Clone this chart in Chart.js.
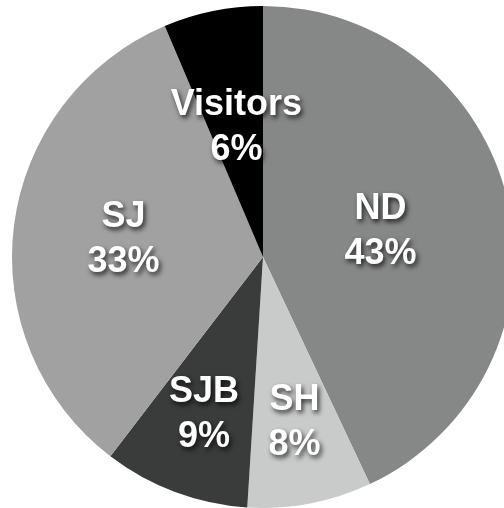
<!DOCTYPE html>
<html>
<head>
<meta charset="utf-8">
<script src="https://cdn.jsdelivr.net/npm/chart.js@4"></script>
<style>
  html, body { margin: 0; padding: 0; background: #ffffff; overflow: hidden; }
  #wrap { position: absolute; left: 0; top: 0; width: 526px; height: 508px; }
</style>
</head>
<body>
<div id="wrap"><canvas id="pieChart"></canvas></div>
<script>
const groups = ['ND', 'SH', 'SJB', 'SJ', 'Visitors'];
const shares = [43, 8, 9.4, 33.2, 6.4];
const sliceColors = ['#868787', '#c9cbca', '#3a3c3b', '#a0a1a0', '#000000'];

// how far out (fraction of radius) each label sits
const labelRadius = [0.48, 0.67, 0.67, 0.56, 0.53];

const sliceLabels = {
    id: 'sliceLabels',
    afterDatasetsDraw(chart) {
        const ctx = chart.ctx;
        const meta = chart.getDatasetMeta(0);
        const values = chart.data.datasets[0].data;
        const total = values.reduce((a, b) => a + b, 0);
        ctx.save();
        ctx.font = 'bold 36px "Liberation Sans", Arial, sans-serif';
        ctx.fillStyle = '#ffffff';
        ctx.textAlign = 'center';
        ctx.textBaseline = 'middle';
        ctx.shadowColor = 'rgba(0, 0, 0, 0.75)';
        ctx.shadowBlur = 5;
        ctx.shadowOffsetX = 2;
        ctx.shadowOffsetY = 3;
        meta.data.forEach((arc, i) => {
            const mid = (arc.startAngle + arc.endAngle) / 2;
            const r = arc.outerRadius * labelRadius[i];
            const x = arc.x + Math.cos(mid) * r;
            const y = arc.y + Math.sin(mid) * r;
            const pct = Math.round(values[i] / total * 100) + '%';
            ctx.fillText(chart.data.labels[i], x, y - 22);
            ctx.fillText(pct, x, y + 23);
        });
        ctx.restore();
    }
};

new Chart(document.getElementById('pieChart'), {
    type: 'pie',
    data: {
        labels: groups,
        datasets: [{
            data: shares,
            backgroundColor: sliceColors,
            borderWidth: 0
        }]
    },
    options: {
        responsive: true,
        maintainAspectRatio: false,
        animation: false,
        layout: { padding: { top: 6, bottom: 0, left: 0, right: 0 } },
        plugins: {
            legend: { display: false },
            tooltip: { enabled: false }
        }
    },
    plugins: [sliceLabels]
});
</script>
</body>
</html>
